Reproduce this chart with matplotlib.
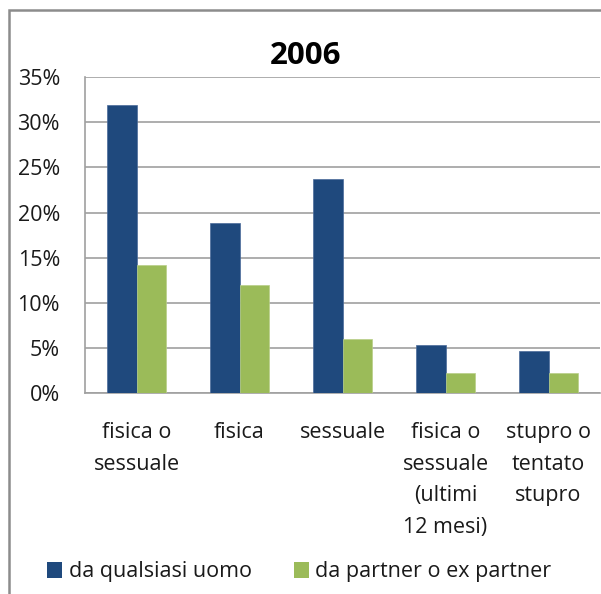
import matplotlib
matplotlib.use("Agg")
import matplotlib.pyplot as plt
from matplotlib.patches import Patch, Rectangle
import numpy as np

categories = ["fisica o\nsessuale", "fisica", "sessuale",
              "fisica o\nsessuale\n(ultimi\n12 mesi)", "stupro o\ntentato\nstupro"]
any_man = [31.9, 18.8, 23.7, 5.3, 4.7]
partner = [14.2, 12.0, 6.0, 2.3, 2.3]
series_names = ["da qualsiasi uomo", "da partner o ex partner"]
y_ticks = [0, 5, 10, 15, 20, 25, 30, 35]
title = "2006"

BLUE = "#1F497D"
GREEN = "#9BBB59"
GRID = "#a0a0a0"
TEXT = "#1a1a1a"
FS = 15.5

plt.rcParams["font.family"] = ["Open Sans", "DejaVu Sans"]

W, H = 601, 594
fig = plt.figure(figsize=(W / 100, H / 100), dpi=100)

# chart frame
fig.patches.append(Rectangle((9 / W, -0.1), 1.2, (H - 10) / H + 0.1,
                             transform=fig.transFigure, fill=False,
                             edgecolor="#8c8c8c", linewidth=1.8))

ax = fig.add_axes([85 / W, (H - 393.3) / H, (600 - 85) / W, (393.3 - 77) / H])

x = np.arange(len(categories))
bw = 1 / 3.5
ax.bar(x - bw / 2, any_man, width=bw, color=BLUE, edgecolor="#4a6a9a",
       linewidth=0.5, label=series_names[0], zorder=3)
ax.bar(x + bw / 2, partner, width=bw, color=GREEN, edgecolor="#b8cf88",
       linewidth=0.5, label=series_names[1], zorder=3)

ax.set_xlim(-0.5, len(categories) - 0.5)
ax.set_ylim(0, 35)
ax.set_yticks(y_ticks)
ax.set_yticklabels([f"{v}%" for v in y_ticks], fontsize=FS, color=TEXT)
ax.yaxis.grid(True, color=GRID, linewidth=1.2, zorder=0)
ax.set_axisbelow(True)
ax.tick_params(axis="y", length=0, pad=18)
ax.set_xticks(x)
ax.set_xticklabels(categories, fontsize=FS, color=TEXT,
                   linespacing=1.65, va="top")
ax.tick_params(axis="x", length=0, pad=21)
for s in ["top", "right"]:
    ax.spines[s].set_visible(False)
for s in ["left", "bottom"]:
    ax.spines[s].set_color(GRID)
    ax.spines[s].set_linewidth(1.2)

fig.text(306 / W, 1 - 56 / H, title, fontsize=22.5, fontweight="bold",
         ha="center", va="center")

handles = [Patch(facecolor=BLUE), Patch(facecolor=GREEN)]
fig.legend(handles, series_names, loc="center left",
           bbox_to_anchor=(28 / W, 1 - 572 / H), ncol=2, frameon=False,
           fontsize=FS, handlelength=0.7, handleheight=0.7,
           handletextpad=0.3, columnspacing=1.95, labelcolor=TEXT)

fig.savefig("out.png", dpi=100)
